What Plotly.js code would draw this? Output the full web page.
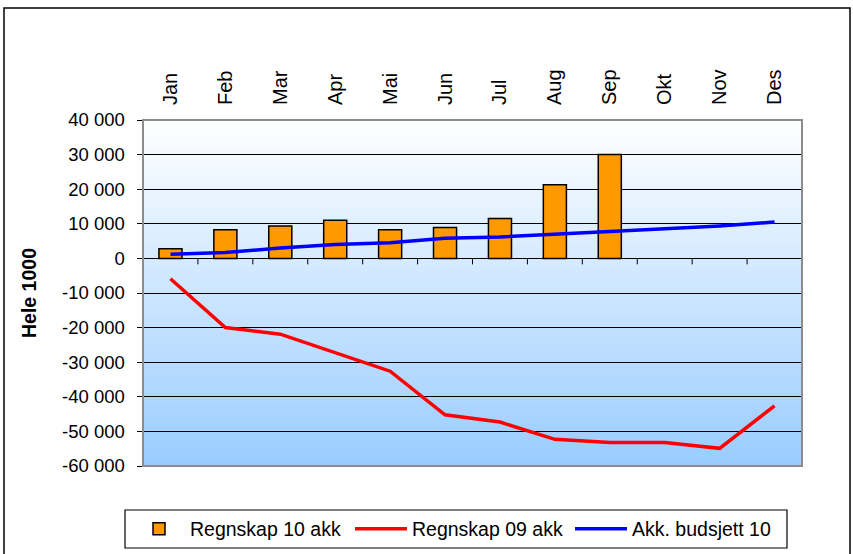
<!DOCTYPE html>
<html>
<head>
<meta charset="utf-8">
<script src="https://cdn.plot.ly/plotly-3.0.1.min.js"></script>
<style>
html,body{margin:0;padding:0;background:#fff;}
#chart{width:853px;height:554px;}
</style>
</head>
<body>
<div id="chart"></div>
<script>
const months = ["Jan","Feb","Mar","Apr","Mai","Jun","Jul","Aug","Sep","Okt","Nov","Des"];
const regnskap10 = [2800, 8300, 9400, 11000, 8300, 8900, 11500, 21300, 30000, null, null, null];
const regnskap09 = [-5900, -20000, -21900, -27300, -32600, -45200, -47300, -52300, -53200, -53200, -54900, -42600];
const budsjett10 = [1200, 1700, 3000, 4000, 4500, 5800, 6200, 7100, 7800, 8600, 9400, 10500];
const yTickVals = [40000, 30000, 20000, 10000, 0, -10000, -20000, -30000, -40000, -50000, -60000];
const yTickText = ["40 000","30 000","20 000","10 000","0","-10 000","-20 000","-30 000","-40 000","-50 000","-60 000"];

const traces = [
  {type:'bar', name:'Regnskap 10 akk', x:months, y:regnskap10, legend:'legend',
   marker:{color:'#FF9900', line:{color:'#000000', width:1.5}}, width:0.42},
  {type:'scatter', mode:'lines', name:'Regnskap 09 akk', x:months, y:regnskap09, legend:'legend2',
   line:{color:'#FF0000', width:3.5}},
  {type:'scatter', mode:'lines', name:'Akk. budsjett 10', x:months, y:budsjett10, legend:'legend3',
   line:{color:'#0000FF', width:3.5}}
];

// background gradient strips
const shapes = [];
const N = 80;
for (let i = 0; i < N; i++) {
  const t = (i + 0.5) / N; // 0 top -> 1 bottom
  const r = Math.round(255 + (153 - 255) * t);
  const g = Math.round(255 + (204 - 255) * t);
  const b = 255;
  shapes.push({type:'rect', xref:'paper', yref:'paper', layer:'below',
    x0:0, x1:1, y1:1 - i / N, y0:1 - (i + 1) / N - 0.002,
    fillcolor:`rgb(${r},${g},${b})`, line:{width:0}});
}
// plot area border (gray)
shapes.push({type:'rect', xref:'paper', yref:'paper', x0:0, x1:1, y0:0, y1:1,
  line:{color:'#8c8c8c', width:2}, fillcolor:'rgba(0,0,0,0)', layer:'above'});
// category tick marks on the zero line
for (let i = 0; i < months.length - 1; i++) {
  shapes.push({type:'line', xref:'x', yref:'y', ysizemode:'pixel', yanchor:0,
    x0:i + 0.5, x1:i + 0.5, y0:0, y1:-6, line:{color:'#000', width:1}});
}
// outer chart border
shapes.push({type:'rect', xref:'paper', yref:'paper',
  x0:(4 - 143) / 659, x1:(850 - 143) / 659, y0:(466 - 600) / 346, y1:1 + (120 - 8) / 346,
  line:{color:'#000', width:1.5}, fillcolor:'rgba(0,0,0,0)', layer:'below'});
// legend frame
shapes.push({type:'rect', xref:'paper', yref:'paper',
  x0:(125 - 143) / 659, x1:(787 - 143) / 659, y0:(466 - 548) / 346, y1:(466 - 510) / 346,
  line:{color:'#000', width:1.2}, fillcolor:'#ffffff', layer:'below'});

function legendAt(px) {
  return {orientation:'h', xref:'container', x:px / 853, xanchor:'left',
    yref:'container', y:1 - 529 / 554, yanchor:'middle',
    bgcolor:'rgba(0,0,0,0)', borderwidth:0, font:{size:19.5}, itemwidth:52};
}

const layout = {
  width:853, height:554,
  margin:{l:143, r:51, t:120, b:88, autoexpand:false},
  paper_bgcolor:'#ffffff',
  plot_bgcolor:'rgba(0,0,0,0)',
  font:{family:'Liberation Sans, Arial, sans-serif', color:'#000', size:18},
  showlegend:true,
  xaxis:{side:'top', type:'category', tickangle:-90, showgrid:false, zeroline:false,
    ticks:'outside', ticklen:10, tickcolor:'rgba(0,0,0,0)',
    tickfont:{size:20}, automargin:false,
    showline:false, range:[-0.5, 11.5], fixedrange:true},
  yaxis:{range:[-60000, 40000], tickvals:yTickVals, ticktext:yTickText,
    showgrid:true, gridcolor:'#000000', gridwidth:1,
    zeroline:true, zerolinecolor:'#000000', zerolinewidth:1.5,
    showline:true, linecolor:'#000000', linewidth:1.5,
    ticks:'outside', ticklen:5, tickcolor:'#000', ticklabelstandoff:8,
    tickfont:{size:18.5}, automargin:false,
    title:{text:'<b>Hele 1000</b>', font:{size:19.5}, standoff:20}},
  legend:legendAt(128),
  legend2:legendAt(350),
  legend3:legendAt(570),
  shapes:shapes
};

Plotly.newPlot('chart', traces, layout, {staticPlot:true, displayModeBar:false});
</script>
</body>
</html>
